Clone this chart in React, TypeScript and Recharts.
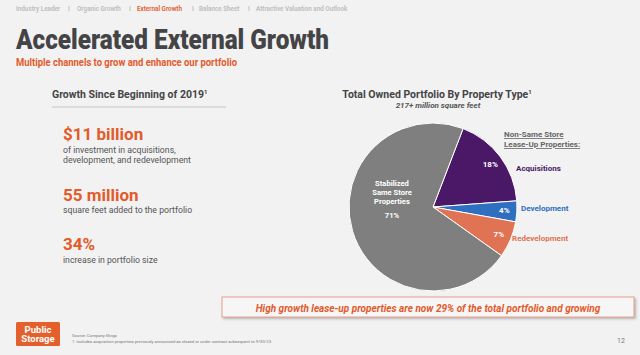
import React from 'react'
import { PieChart, Pie, Cell } from 'recharts'

const SEGMENTS = ['Acquisitions', 'Development', 'Redevelopment', 'Stabilized Same Store Properties']
const SHARES = [18, 4, 7, 71]
const COLORS = ['#4a1866', '#2f6fbf', '#e07353', '#7f7f7f']

const NAV = ['Industry Leader', 'Organic Growth', 'External Growth', 'Balance Sheet', 'Attractive Valuation and Outlook']
const NAV_X = [16, 77, 137, 199, 256]
const SEP_X = [68, 129, 192, 248]

const ORANGE = '#e35a2b'
const DARK = '#444446'
const RADIAN = Math.PI / 180

const data = SEGMENTS.map((name, i) => ({ name, value: SHARES[i] }))

const renderLabel = (props: any) => {
  const { cx, cy, midAngle, outerRadius, index, value } = props
  if (index === 3) {
    const x = cx + outerRadius * 0.51 * Math.cos(-midAngle * RADIAN)
    const lines = ['Stabilized', 'Same Store', 'Properties']
    return (
      <g fontFamily="Roboto" fontWeight={700} fontSize={7.6} fill="#fff" textAnchor="middle">
        {lines.map((l, i) => (
          <text key={l} x={x} y={186 + i * 9}>{l}</text>
        ))}
        <text x={x} y={218}>{value}%</text>
      </g>
    )
  }
  const r = outerRadius * 0.85
  const x = cx + r * Math.cos(-midAngle * RADIAN)
  const y = cy + r * Math.sin(-midAngle * RADIAN)
  return (
    <text x={x} y={y} fill="#fff" textAnchor="middle" dominantBaseline="central"
      fontFamily="Roboto" fontWeight={700} fontSize={8}>
      {value}%
    </text>
  )
}

export default function App() {
  return (
    <div style={{ position: 'relative', width: 640, height: 355, background: '#f2f2f2', overflow: 'hidden' }}>
      <style>{'body{margin:0}'}</style>
      <div style={{ position: 'absolute', left: 0, top: 0 }}>
        <PieChart width={640} height={355}>
          <Pie
            data={data}
            dataKey="value"
            nameKey="name"
            cx={428}
            cy={202}
            outerRadius={84}
            startAngle={69}
            endAngle={-291}
            stroke="#ffffff"
            strokeWidth={1}
            label={renderLabel}
            labelLine={false}
            isAnimationActive={false}
          >
            {data.map((d, i) => (
              <Cell key={d.name} fill={COLORS[i]} />
            ))}
          </Pie>
        </PieChart>
      </div>
      <svg width={640} height={355} style={{ position: 'absolute', left: 0, top: 0, pointerEvents: 'none' }}
        fontFamily="Roboto">
        <defs>
          <filter id="shadow" x="-5%" y="-30%" width="110%" height="170%">
            <feDropShadow dx="1.5" dy="1.5" stdDeviation="1" floodColor="#888" floodOpacity="0.6" />
          </filter>
        </defs>

        {/* nav */}
        {NAV.map((n, i) => (
          <text key={n} x={NAV_X[i]} y={11} fontSize={6.3} fontWeight={600}
            fill={i === 2 ? ORANGE : '#bcbcbc'}>{n}</text>
        ))}
        {SEP_X.map(x => (
          <text key={x} x={x} y={11} fontSize={6.3} fontWeight={600} fill="#bcbcbc">I</text>
        ))}

        <text x={16} y={49} fontSize={28} fontWeight={900} fill={DARK} textLength={313} lengthAdjust="spacingAndGlyphs">
          Accelerated External Growth
        </text>
        <text x={16} y={66} fontSize={10.5} fontWeight={700} fill={ORANGE} textLength={221} lengthAdjust="spacingAndGlyphs">
          Multiple channels to grow and enhance our portfolio
        </text>

        {/* left block */}
        <text x={52} y={98} fontSize={10.5} fontWeight={700} fill={DARK}>
          Growth Since Beginning of 2019<tspan fontSize={6} dy={-4}>1</tspan>
        </text>
        <line x1={52} x2={226} y1={107} y2={107} stroke="#d2d2d2" strokeWidth={1.5} />

        <text x={63} y={140} fontSize={17} fontWeight={700} fill={ORANGE}>$11 billion</text>
        <text x={63} y={153} fontSize={8.7} fill="#555">of investment in acquisitions,</text>
        <text x={63} y={162.5} fontSize={8.7} fill="#555">development, and redevelopment</text>

        <text x={63} y={201} fontSize={17} fontWeight={700} fill={ORANGE}>55 million</text>
        <text x={63} y={213} fontSize={8.7} fill="#555">square feet added to the portfolio</text>

        <text x={63} y={250} fontSize={17} fontWeight={700} fill={ORANGE}>34%</text>
        <text x={63} y={263} fontSize={8.7} fill="#555">increase in portfolio size</text>

        {/* right block */}
        <text x={437} y={98} fontSize={10.5} fontWeight={700} fill={DARK} textAnchor="middle">
          Total Owned Portfolio By Property Type<tspan fontSize={6} dy={-4}>1</tspan>
        </text>
        <text x={438} y={108} fontSize={8} fontWeight={700} fontStyle="italic" fill="#555" textAnchor="middle">
          217+ million square feet
        </text>

        <text x={504} y={137} fontSize={8} fontWeight={700} fill="#666" textDecoration="underline">Non-Same Store</text>
        <text x={504} y={147} fontSize={8} fontWeight={700} fill="#666" textDecoration="underline">Lease-Up Properties:</text>
        <text x={516} y={171} fontSize={8} fontWeight={700} fill={COLORS[0]}>{SEGMENTS[0]}</text>
        <text x={521} y={211} fontSize={8} fontWeight={700} fill={COLORS[1]}>{SEGMENTS[1]}</text>
        <text x={512} y={241} fontSize={8} fontWeight={700} fill={COLORS[2]}>{SEGMENTS[2]}</text>

        {/* callout */}
        <rect x={222} y={297} width={412} height={20} fill="#f6f6f6" stroke="#eaa08c" strokeWidth={1} filter="url(#shadow)" />
        <text x={428} y={311.5} fontSize={10} fontWeight={700} fontStyle="italic" fill={ORANGE} textAnchor="middle">
          High growth lease-up properties are now 29% of the total portfolio and growing
        </text>

        {/* logo */}
        <rect x={16} y={322} width={44} height={24} rx={1.5} fill="#e35f2b" />
        <text x={38} y={332.5} fontSize={9.5} fontWeight={700} fill="#fff" textAnchor="middle">Public</text>
        <text x={38} y={342} fontSize={9.5} fontWeight={700} fill="#fff" textAnchor="middle">Storage</text>

        <text x={72} y={337} fontSize={4.2} fill="#777">Source:  Company filings</text>
        <text x={72} y={343} fontSize={4.2} fill="#777">
          1.  Includes acquisition properties previously announced as closed or under contract subsequent to 9/30/23.
        </text>
        <text x={617} y={343} fontSize={7} fill="#777">12</text>
      </svg>
    </div>
  )
}
